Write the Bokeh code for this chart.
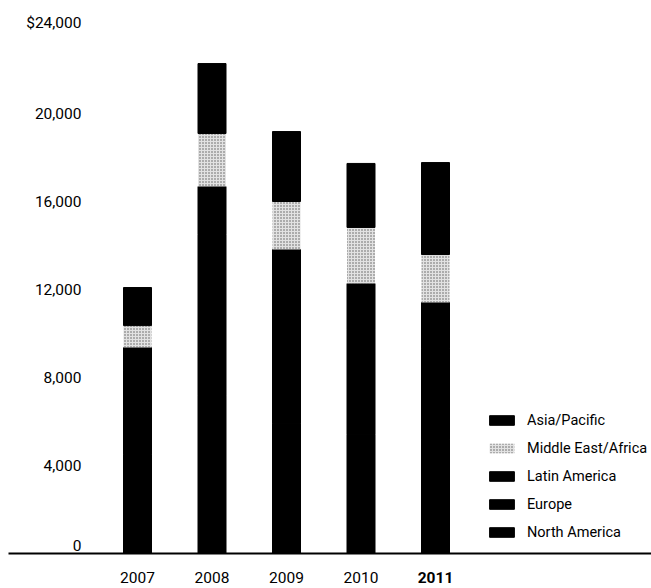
from bokeh.plotting import figure
from bokeh.models import ColumnDataSource, Range1d, Legend, LegendItem
from bokeh.core.properties import value
from bokeh.embed import file_html
from bokeh.resources import INLINE

# Revenue by region, $ millions
years = ["2007", "2008", "2009", "2010", "2011"]
north_america = [4500, 7200, 5900, 5400, 5200]
europe = [3800, 7300, 5900, 4800, 4100]
latin_america = [1060, 2180, 2020, 2070, 2110]
middle_east_africa = [1000, 2410, 2180, 2550, 2180]
asia_pacific = [1730, 3180, 3180, 2910, 4180]

regions = ["North America", "Europe", "Latin America", "Middle East/Africa", "Asia/Pacific"]
tick_values = [0, 4000, 8000, 12000, 16000, 20000, 24000]
tick_labels = ["0", "4,000", "8,000", "12,000", "16,000", "20,000", "$24,000"]
current_year = "2011"

# page geometry (pixels)
W, H = 651, 588
BASE_PX = 553          # vertical position of the zero line
PX_PER_UNIT = 0.022    # pixels per $1 million
FIRST_BAR_PX = 137     # centre of the first bar
BAR_STEP_PX = 74.5     # distance between bar centres
BAR_W_PX = 28

FONT_NAME = "Roboto"
FONT = value(FONT_NAME)
FONT_SIZE = "15.5px"
LEGEND_FONT_SIZE = "14.5px"


def px_to_x(px):
    return (px - FIRST_BAR_PX) / BAR_STEP_PX


def px_to_y(px):
    return (BASE_PX - px) / PX_PER_UNIT


x_pos = list(range(len(years)))
source = ColumnDataSource(dict(
    x=x_pos,
    north_america=north_america,
    europe=europe,
    latin_america=latin_america,
    middle_east_africa=middle_east_africa,
    asia_pacific=asia_pacific,
))

p = figure(
    width=W, height=H,
    x_range=Range1d(px_to_x(0), px_to_x(W)),
    y_range=Range1d(px_to_y(H), px_to_y(0)),
    x_axis_location=None, y_axis_location=None,
    toolbar_location=None, output_backend="svg",
    min_border=0, outline_line_color=None,
    background_fill_color="white", border_fill_color="white",
)
p.grid.visible = False

stackers = ["north_america", "europe", "latin_america", "middle_east_africa", "asia_pacific"]
stipple = "middle_east_africa"
renderers = p.vbar_stack(
    stackers, x="x", width=BAR_W_PX / BAR_STEP_PX, source=source,
    fill_color=["#e2e2e2" if s == stipple else "black" for s in stackers],
    line_color=[None if s == stipple else "black" for s in stackers],
    line_width=1,
    hatch_pattern=["dot" if s == stipple else " " for s in stackers],
    hatch_color="#3a3a3a", hatch_scale=3, hatch_weight=1, hatch_alpha=0.8,
)

# zero line running under the value labels
p.segment(x0=[px_to_x(8)], y0=[0], x1=[px_to_x(W)], y1=[0],
          line_color="black", line_width=2)

# value labels on the left
label_offsets = [-8 if t == 0 else (-3 if t == max(tick_values) else 0) for t in tick_values]
p.text(x=[px_to_x(81)] * len(tick_values), y=tick_values, text=tick_labels,
       y_offset=label_offsets, text_align="right", text_baseline="middle",
       text_font=FONT, text_font_size=FONT_SIZE, text_color="black")

# year labels under the bars, current year in bold
year_src = ColumnDataSource(dict(
    x=x_pos, y=[px_to_y(577)] * len(years), text=years,
    style=["bold" if y == current_year else "normal" for y in years],
))
p.text(x="x", y="y", text="text", source=year_src, text_font_style="style",
       text_align="center", text_baseline="middle",
       text_font=FONT, text_font_size=FONT_SIZE, text_color="black")

items = [LegendItem(label=name, renderers=[r]) for name, r in zip(regions, renderers)]
legend = Legend(
    items=items[::-1], location=(486, 46), orientation="vertical",
    glyph_width=31, glyph_height=12, label_height=20, spacing=8,
    label_standoff=10, padding=0, margin=0,
    border_line_color=None, background_fill_alpha=0,
    label_text_font=FONT_NAME, label_text_font_size=LEGEND_FONT_SIZE,
    label_text_color="black",
)
p.add_layout(legend)

open("out.html", "w").write(file_html(p, INLINE))
